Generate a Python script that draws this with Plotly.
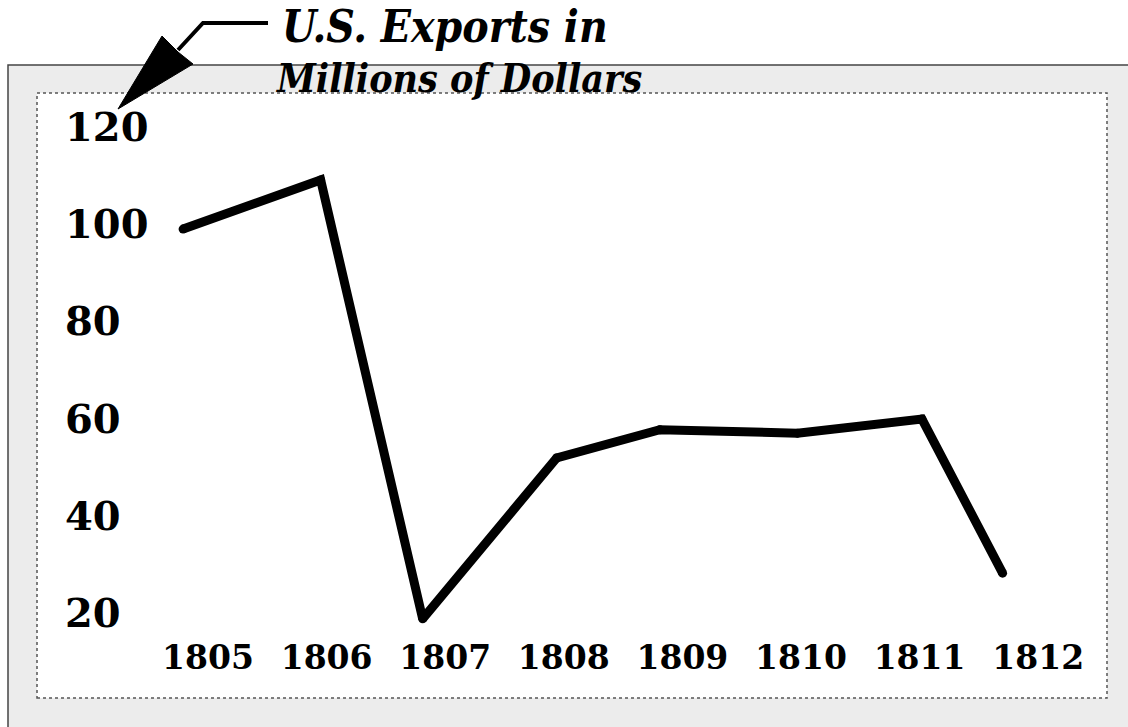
import plotly.graph_objects as go

# ---- data ----
year_labels = ["1805", "1806", "1807", "1808", "1809", "1810", "1811", "1812"]
year_ticks = [1805, 1806, 1807, 1808, 1809, 1810, 1811, 1812]
# horizontal placement of each plotted point (in year units, as drawn)
point_x = [1804.79, 1805.95, 1806.81, 1807.94, 1808.81, 1809.97, 1811.02, 1811.70]
exports = [99.0, 109.1, 18.8, 51.9, 57.7, 57.0, 59.9, 28.2]
y_ticks = [20, 40, 60, 80, 100, 120]

W, H = 1128, 727
L, R, T, B = 62, 1090, 100, 633  # plot area in pixels


def px(x):
    return (x - L) / (R - L)


def py(y):
    return 1 - (y - T) / (B - T)


fig = go.Figure()
fig.add_trace(go.Scatter(
    x=point_x, y=exports, mode="lines+markers",
    line=dict(color="black", width=9),
    marker=dict(color="black", size=9),
    hoverinfo="x+y", showlegend=False, cliponaxis=False,
))

shapes = [
    # outer speckled frame band
    dict(type="rect", xref="paper", yref="paper", layer="below",
         x0=px(8), x1=px(1140), y0=py(740), y1=py(65),
         fillcolor="#ececec", line=dict(color="#444", width=1.5)),
    # inner white panel
    dict(type="rect", xref="paper", yref="paper", layer="below",
         x0=px(37), x1=px(1107), y0=py(698), y1=py(93),
         fillcolor="white", line=dict(color="#555", width=1.5, dash="dot")),
    # arrow: horizontal stroke and diagonal shaft
    dict(type="path", xref="paper", yref="paper",
         path=f"M {px(268)},{py(23)} L {px(203)},{py(23)} L {px(178)},{py(50)}",
         line=dict(color="black", width=4)),
    # arrow head
    dict(type="path", xref="paper", yref="paper",
         path=f"M {px(118)},{py(109)} L {px(162)},{py(36)} L {px(178)},{py(52)} L {px(193)},{py(64)} Z",
         fillcolor="black", line=dict(color="black", width=1)),
]

title_family = "DejaVu Serif Condensed, DejaVu Serif, serif"
annotations = [
    dict(xref="paper", yref="paper", x=px(280), y=py(54), xanchor="left", yanchor="bottom",
         text="<b><i>U.S. Exports in</i></b>", showarrow=False,
         font=dict(family=title_family, size=44, color="black")),
    dict(xref="paper", yref="paper", x=px(274), y=py(103), xanchor="left", yanchor="bottom",
         text="<b><i>Millions of Dollars</i></b>", showarrow=False,
         font=dict(family=title_family, size=39, color="black")),
]

fig.update_layout(
    width=W, height=H,
    margin=dict(l=L, r=W - R, t=T, b=H - B),
    paper_bgcolor="white", plot_bgcolor="rgba(0,0,0,0)",
    shapes=shapes, annotations=annotations,
    xaxis=dict(
        range=[1803.769, 1812.437], tickmode="array", tickvals=year_ticks, ticktext=year_labels,
        showgrid=False, zeroline=False, showline=False, ticks="",
        tickfont=dict(family="DejaVu Serif, serif", size=33, color="black", weight="bold"),
        ticklabelstandoff=2,
    ),
    yaxis=dict(
        range=[15.88, 125.56], tickmode="array", tickvals=y_ticks,
        ticktext=[str(v) for v in y_ticks],
        showgrid=False, zeroline=False, showline=False, ticks="",
        ticklabelposition="inside", ticklabeloverflow="allow",
        tickfont=dict(family="DejaVu Serif, serif", size=40, color="black", weight="bold"),
    ),
)

fig.write_html("out.html", config={"displayModeBar": False},
               post_script="document.body.style.margin='0';")
